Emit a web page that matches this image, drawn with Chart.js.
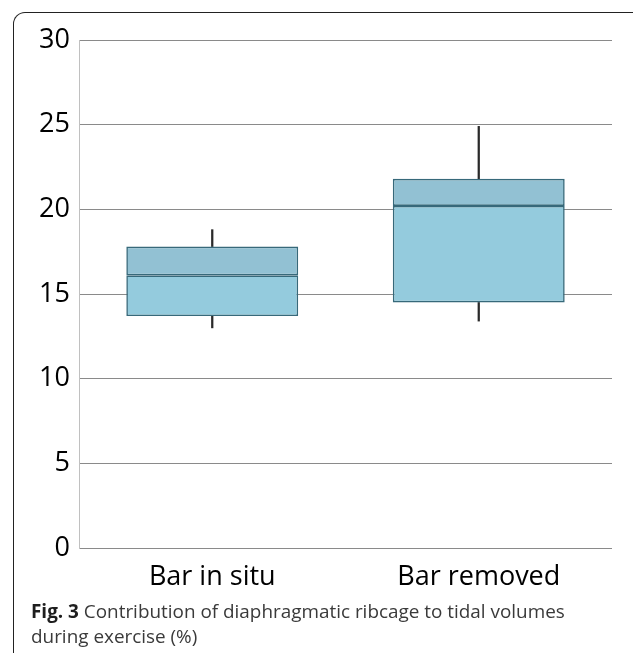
<!DOCTYPE html>
<html>
<head>
<meta charset="utf-8">
<script src="https://cdn.jsdelivr.net/npm/chart.js@4.4.1/dist/chart.umd.min.js"></script>
<style>
  html, body { margin: 0; padding: 0; background: #fff; }
  body { width: 633px; height: 653px; position: relative; overflow: hidden; font-family: "Open Sans", sans-serif; }
  #frame {
    position: absolute; left: 13px; top: 12px; width: 640px; height: 700px;
    border-left: 1.6px solid #222; border-top: 1.6px solid #222;
    border-right: 1.6px solid #222; border-top-left-radius: 12px; border-top-right-radius: 12px;
    box-sizing: border-box;
  }
  #wrap { position: absolute; left: 0; top: 0; width: 633px; height: 600px; }
  #caption {
    position: absolute; left: 31px; top: 599px; width: 545px;
    font-size: 18.9px; line-height: 25px; color: #3a3a3a;
  }
  #caption b { color: #1e1e1e; }
</style>
</head>
<body>
<div id="frame"></div>
<div id="wrap"><canvas id="chart"></canvas></div>
<div id="caption"><b>Fig. 3</b> Contribution of diaphragmatic ribcage to tidal volumes during exercise (%)</div>
<script>
// box plot values
const categories = ["Bar in situ", "Bar removed"];
const whiskerMin = [13.0, 13.4];
const quartile1 = [13.7, 14.5];
const medians = [16.1, 20.2];
const quartile3 = [17.8, 21.8];
const whiskerMax = [18.8, 24.9];
const yTicks = [0, 5, 10, 15, 20, 25, 30];

const lowerBox = categories.map((c, i) => [quartile1[i], medians[i]]);
const upperBox = categories.map((c, i) => [medians[i], quartile3[i]]);
const lowWhisker = categories.map((c, i) => [whiskerMin[i], quartile1[i]]);
const highWhisker = categories.map((c, i) => [quartile3[i], whiskerMax[i]]);

const boxEdge = "#37697a";

new Chart(document.getElementById("chart"), {
  type: "bar",
  data: {
    labels: categories,
    datasets: [
      {
        data: lowWhisker, backgroundColor: "#2a2a2a", borderWidth: 0,
        barThickness: 1.6, grouped: false, order: 3,
      },
      {
        data: highWhisker, backgroundColor: "#2a2a2a", borderWidth: 0,
        barThickness: 1.6, grouped: false, order: 3,
      },
      {
        data: lowerBox, backgroundColor: "#94cbdd", borderColor: boxEdge, borderWidth: 1.6,
        borderSkipped: false, categoryPercentage: 1, barPercentage: 0.645, grouped: false, order: 1,
      },
      {
        data: upperBox, backgroundColor: "#92c1d3", borderColor: boxEdge, borderWidth: 1.6,
        borderSkipped: false, categoryPercentage: 1, barPercentage: 0.645, grouped: false, order: 1,
      },
    ],
  },
  options: {
    responsive: true,
    maintainAspectRatio: false,
    animation: false,
    layout: { padding: { top: 40, right: 21, left: 0, bottom: 0 } },
    plugins: { legend: { display: false }, tooltip: { enabled: false } },
    scales: {
      x: {
        grid: { display: false },
        border: { display: false },
        ticks: { color: "#000", font: { family: "Open Sans", size: 27 }, padding: 5 },
        afterFit: (s) => { s.height = 52; },
      },
      y: {
        min: 0, max: 30,
        afterBuildTicks: (s) => { s.ticks = yTicks.map((v) => ({ value: v })); },
        grid: { color: "#8a8a8a", lineWidth: 1, drawTicks: false },
        border: { display: true, color: "#c0c0c0", width: 1 },
        ticks: { color: "#000", font: { family: "Open Sans", size: 27 }, padding: 9 },
        afterFit: (s) => { s.width = 79; },
      },
    },
  },
});
</script>
</body>
</html>
